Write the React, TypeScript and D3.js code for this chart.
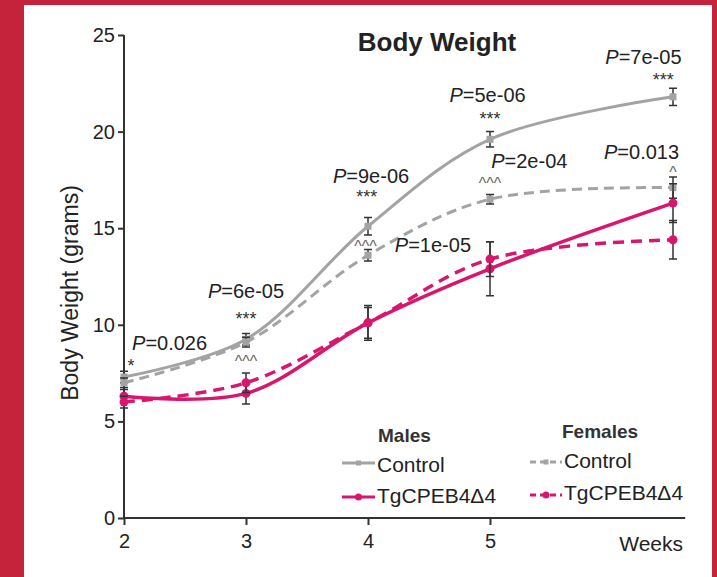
import React, { useRef, useEffect } from "react";
import * as d3 from "d3";

// weeks of age (last measurement sits past week 5, no tick)
const weeks = [2, 3, 4, 5, 6.5];
const xTicks = [2, 3, 4, 5];
const yTicks = [0, 5, 10, 15, 20, 25];

const maleControl = [7.3, 9.25, 15.1, 19.6, 21.8];
const maleControlErr = [0.3, 0.3, 0.45, 0.4, 0.45];
const femaleControl = [7.0, 9.1, 13.6, 16.5, 17.1];
const femaleControlErr = [0.25, 0.25, 0.3, 0.25, 0.55];
const maleTg = [6.3, 6.45, 10.1, 12.9, 16.3];
const maleTgErr = [0.35, 0.55, 0.8, 1.4, 1.0];
const femaleTg = [6.0, 7.0, 10.1, 13.4, 14.4];
const femaleTgErr = [0.3, 0.5, 0.9, 0.9, 1.0];

// p-value labels (week, grams, anchor)
const pLabels = [
  { text: "0.026", week: 2.066, value: 8.7, anchor: "start" },
  { text: "6e-05", week: 3, value: 11.39, anchor: "middle" },
  { text: "9e-06", week: 4.025, value: 17.34, anchor: "middle" },
  { text: "1e-05", week: 4.22, value: 13.77, anchor: "start" },
  { text: "5e-06", week: 4.98, value: 21.53, anchor: "middle" },
  { text: "2e-04", week: 5.01, value: 18.12, anchor: "start" },
  { text: "7e-05", week: 6.57, value: 23.5, anchor: "end" },
  { text: "0.013", week: 6.55, value: 18.6, anchor: "end" },
];
// significance marks: * male, ^ female
const sigMarks = [
  { text: "*", week: 2.057, value: 7.56 },
  { text: "***", week: 3, value: 9.99 },
  { text: "^^^", week: 3, value: 7.82 },
  { text: "***", week: 3.99, value: 16.3 },
  { text: "^^^", week: 3.98, value: 13.75 },
  { text: "***", week: 5, value: 20.34 },
  { text: "^^^", week: 5, value: 17.03 },
  { text: "***", week: 6.42, value: 22.35 },
  { text: "^", week: 6.5, value: 17.6 },
];

const GRAY = "#a3a3a3";
const PINK = "#d8166e";
const FONT = "'Liberation Sans', Arial, sans-serif";

const series = [
  { name: "Control", group: "Males", values: maleControl, err: maleControlErr, color: GRAY, dash: null, marker: "square" },
  { name: "Control", group: "Females", values: femaleControl, err: femaleControlErr, color: GRAY, dash: "10,6", marker: "square" },
  { name: "TgCPEB4\u03944", group: "Males", values: maleTg, err: maleTgErr, color: PINK, dash: null, marker: "circle" },
  { name: "TgCPEB4\u03944", group: "Females", values: femaleTg, err: femaleTgErr, color: PINK, dash: "11,7", marker: "circle" },
];

function App() {
  const svgRef = useRef(null);

  useEffect(() => {
    const svg = d3.select(svgRef.current);
    svg.selectAll("*").remove();

    svg.append("rect").attr("width", 717).attr("height", 577).attr("fill", "#c5233c");
    svg.append("rect").attr("x", 24).attr("y", 5).attr("width", 688).attr("height", 572).attr("fill", "#fff");

    const x = d3.scaleLinear().domain([2, 6.6]).range([124, 685.2]);
    const y = d3.scaleLinear().domain([0, 25]).range([518, 35]);

    // axes
    const xAxis = d3.axisBottom(x).tickValues(xTicks).tickSize(7).tickPadding(8).tickFormat(d3.format("d"));
    const yAxis = d3.axisLeft(y).tickValues(yTicks).tickSize(6).tickPadding(3);
    const gx = svg.append("g").attr("transform", "translate(0,518)").call(xAxis);
    const gy = svg.append("g").attr("transform", "translate(124,0)").call(yAxis);
    [gx, gy].forEach((g) => {
      g.select(".domain").attr("stroke", "#333").attr("stroke-width", 2);
      g.selectAll(".tick line").attr("stroke", "#333").attr("stroke-width", 2);
      g.selectAll(".tick text").attr("fill", "#222").style("font-family", FONT).style("font-size", "20px");
    });
    gx.select(".domain").attr("d", `M124,0H685.2`);
    gy.select(".domain").attr("d", `M0,518V35`);
    gx.selectAll(".tick text").attr("dy", "0.75em");

    svg.append("text").attr("x", 683).attr("y", 551).attr("text-anchor", "end")
      .style("font-family", FONT).style("font-size", "21px").attr("fill", "#222").text("Weeks");

    svg.append("text").attr("transform", "translate(78,293) rotate(-90)").attr("text-anchor", "middle")
      .style("font-family", FONT).style("font-size", "23px").attr("fill", "#222").text("Body Weight (grams)");

    svg.append("text").attr("x", 437).attr("y", 51).attr("text-anchor", "middle")
      .style("font-family", FONT).style("font-size", "26px").style("font-weight", "bold").attr("fill", "#222")
      .text("Body Weight");

    const lineGen = d3.line<number>()
      .x((d, i) => x(weeks[i]))
      .y((d) => y(d))
      .curve(d3.curveCatmullRom);

    const drawMarker = (g, s, cx, cy, size) => {
      if (s.marker === "square") {
        g.append("rect").attr("x", cx - size).attr("y", cy - size).attr("width", size * 2).attr("height", size * 2).attr("fill", s.color);
      } else {
        g.append("circle").attr("cx", cx).attr("cy", cy).attr("r", size + 1).attr("fill", s.color);
      }
    };

    series.forEach((s) => {
      const g = svg.append("g");
      g.append("path").attr("d", lineGen(s.values)).attr("fill", "none")
        .attr("stroke", s.color).attr("stroke-width", s.color === PINK ? 3.5 : 3)
        .attr("stroke-dasharray", s.dash);
      s.values.forEach((v, i) => {
        const cx = x(weeks[i]);
        const lo = y(v - s.err[i]);
        const hi = y(v + s.err[i]);
        g.append("path").attr("d", `M${cx},${lo}V${hi}M${cx - 4},${lo}H${cx + 4}M${cx - 4},${hi}H${cx + 4}`)
          .attr("stroke", "#333").attr("stroke-width", 1.5).attr("fill", "none");
        drawMarker(g, s, cx, y(v), 3.5);
      });
    });

    // annotations
    pLabels.forEach((p) => {
      const t = svg.append("text").attr("x", x(p.week)).attr("y", y(p.value)).attr("text-anchor", p.anchor)
        .style("font-family", FONT).style("font-size", "20px").attr("fill", "#222");
      t.append("tspan").style("font-style", "italic").text("P");
      t.append("tspan").text("=" + p.text);
    });
    sigMarks.forEach((m) => {
      svg.append("text").attr("x", x(m.week)).attr("y", y(m.value)).attr("text-anchor", "middle")
        .style("font-family", FONT).style("font-size", m.text.startsWith("^") ? "16px" : "18px")
        .attr("fill", m.text.startsWith("^") ? "#666" : "#333").text(m.text);
    });

    // legend
    const legendPos = {
      Males: { title: [378, 442], x0: 342, x1: 375, tx: 377, rows: [[463, 472], [497, 503]] },
      Females: { title: [562, 438], x0: 530, x1: 562, tx: 564, rows: [[462, 468], [495, 500]] },
    };
    Object.keys(legendPos).forEach((grp) => {
      const L = legendPos[grp];
      svg.append("text").attr("x", L.title[0]).attr("y", L.title[1])
        .style("font-family", FONT).style("font-size", "19px").style("font-weight", "bold").attr("fill", "#333").text(grp);
      series.filter((s) => s.group === grp).forEach((s, k) => {
        const [ly, ty] = L.rows[k];
        const g = svg.append("g");
        g.append("line").attr("x1", L.x0).attr("x2", L.x1).attr("y1", ly).attr("y2", ly)
          .attr("stroke", s.color).attr("stroke-width", 3).attr("stroke-dasharray", s.dash ? "6,4" : null);
        drawMarker(g, s, (L.x0 + L.x1) / 2, ly, 2.5);
        g.append("text").attr("x", L.tx).attr("y", ty)
          .style("font-family", FONT).style("font-size", "21px").attr("fill", "#222").text(s.name);
      });
    });
  }, []);

  return (
    <svg ref={svgRef} width={717} height={577} style={{ position: "absolute", left: 0, top: 0 }} />
  );
}

export default App;
